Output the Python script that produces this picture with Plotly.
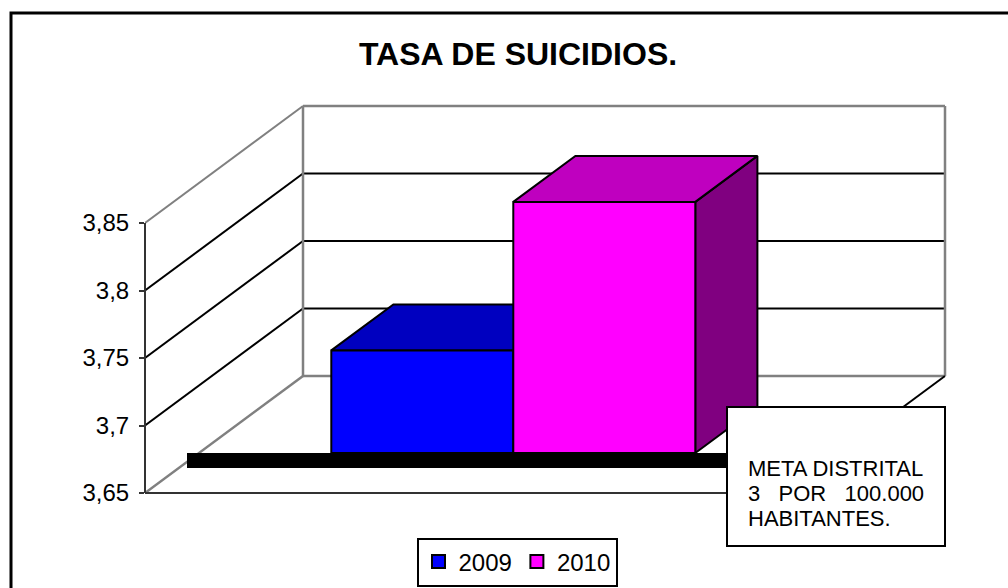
import plotly.graph_objects as go

# Data
series_names = ["2009", "2010"]
series_values = [3.726, 3.836]
front_colors = ["#0000FF", "#FF00FF"]
top_colors = ["#0000C0", "#BF00BF"]
side_colors = ["#000080", "#800080"]
y_ticks = [3.65, 3.7, 3.75, 3.8, 3.85]
y_tick_labels = ["3,65", "3,7", "3,75", "3,8", "3,85"]
title_text = "TASA DE SUICIDIOS."
note_lines = ["META DISTRITAL", "3\u00a0\u00a0\u00a0POR\u00a0\u00a0\u00a0100.000", "HABITANTES."]

# Oblique 3D frame (axis units)
Y_MIN = 3.65
PX_PER_Y = 1350.0
PX_PER_X = 642.0
DEPTH_X = 158 / PX_PER_X
DEPTH_Y = 117 / PX_PER_Y
FLOOR_W = 1.0
BAR_W = 0.2835
BAR_START = 0.206
BAR_D0 = 0.342
BAR_D1 = 0.735

W, H = 1008, 588
M_L, M_R, M_T, M_B = 145, 57, 101, 89
PLOT_W = W - M_L - M_R
PLOT_H = H - M_T - M_B


def px(x):
    return (x - M_L) / PLOT_W


def py(y):
    return (H - M_B - y) / PLOT_H


def proj(x, v, d):
    return x + d * DEPTH_X, v + d * DEPTH_Y


def poly(points, fill, line="black", width=2):
    xs, ys = zip(*points)
    return go.Scatter(x=list(xs) + [xs[0]], y=list(ys) + [ys[0]], mode="lines", fill="toself",
                      fillcolor=fill, line=dict(color=line, width=width),
                      hoverinfo="skip", showlegend=False)


def seg(p, q, color="black", width=2):
    return go.Scatter(x=[p[0], q[0]], y=[p[1], q[1]], mode="lines",
                      line=dict(color=color, width=width), hoverinfo="skip", showlegend=False)


GREY = "#808080"
fig = go.Figure()

# Walls and gridlines
for t in y_ticks[1:]:
    a = proj(0, t, 0)
    b = proj(0, t, 1)
    c = proj(FLOOR_W, t, 1)
    is_top = t == y_ticks[-1]
    fig.add_trace(seg(a, b, GREY if is_top else "black"))
    fig.add_trace(seg(b, c, GREY if is_top else "black", 2.5 if is_top else 2))
bl = proj(0, Y_MIN, 1)
tl = proj(0, y_ticks[-1], 1)
br = proj(FLOOR_W, Y_MIN, 1)
tr = proj(FLOOR_W, y_ticks[-1], 1)
fig.add_trace(seg(bl, tl, GREY, 2.5))
fig.add_trace(seg(br, tr, GREY, 2.5))
fig.add_trace(seg(bl, br, GREY, 2.5))
fig.add_trace(seg(proj(0, Y_MIN, 0), bl, GREY, 2.5))
fig.add_trace(seg(proj(FLOOR_W, Y_MIN, 0), br, "black"))
fig.add_trace(seg(proj(0, Y_MIN, 0), proj(FLOOR_W, Y_MIN, 0), "#333333"))

# Bars
for i, v in enumerate(series_values):
    x0 = BAR_START + i * BAR_W
    x1 = x0 + BAR_W
    fig.add_trace(poly([proj(x1, Y_MIN, BAR_D0), proj(x1, Y_MIN, BAR_D1), proj(x1, v, BAR_D1), proj(x1, v, BAR_D0)], side_colors[i]))
    fig.add_trace(poly([proj(x0, v, BAR_D0), proj(x1, v, BAR_D0), proj(x1, v, BAR_D1), proj(x0, v, BAR_D1)], top_colors[i]))
    fig.add_trace(poly([proj(x0, Y_MIN, BAR_D0), proj(x1, Y_MIN, BAR_D0), proj(x1, v, BAR_D0), proj(x0, v, BAR_D0)], front_colors[i]))

# Legend entries
for i, n in enumerate(series_names):
    fig.add_trace(go.Scatter(x=[None], y=[None], mode="markers", name=n,
                             marker=dict(symbol="square", size=13, color=front_colors[i],
                                         line=dict(color="black", width=2))))

note_y = [468.5, 493.5, 518.5]
annotations = [
    dict(xref="paper", yref="paper", x=px(746), y=py(yy), xanchor="left", yanchor="middle",
         showarrow=False, text=line, align="left", font=dict(size=22))
    for line, yy in zip(note_lines, note_y)
]

fig.update_layout(
    width=W, height=H, autosize=False,
    margin=dict(l=M_L, r=M_R, t=M_T, b=M_B),
    paper_bgcolor="white", plot_bgcolor="white",
    font=dict(family="Liberation Sans, Arial, sans-serif", color="black", size=24),
    title=dict(text="<b>" + title_text + "</b>", x=518 / W, xanchor="center", y=1 - 54 / H, yanchor="middle",
               font=dict(size=32, color="black")),
    xaxis=dict(range=[0, PLOT_W / PX_PER_X], visible=False, fixedrange=True),
    yaxis=dict(range=[Y_MIN - (H - M_B - 493) / PX_PER_Y, Y_MIN + (493 - M_T) / PX_PER_Y],
               showgrid=False, zeroline=False, showline=False,
               tickmode="array", tickvals=y_ticks, ticktext=y_tick_labels, ticks="outside",
               ticklen=5, tickwidth=2, tickcolor="#333333", tickfont=dict(size=24),
               ticklabelstandoff=5, fixedrange=True),
    showlegend=True,
    legend=dict(orientation="h", xref="container", yref="container",
                x=517 / W, xanchor="center", y=1 - 562 / H, yanchor="middle",
                bgcolor="white", bordercolor="black", borderwidth=2,
                font=dict(size=24), itemwidth=30),
    shapes=[
        dict(type="rect", xref="paper", yref="paper", x0=px(11), x1=px(1030),
             y0=py(610), y1=py(13), line=dict(color="black", width=3), fillcolor="rgba(0,0,0,0)", layer="below"),
        dict(type="line", xref="paper", yref="y", x0=0, x1=0, y0=Y_MIN, y1=y_ticks[-1],
             line=dict(color="#333333", width=2), layer="above"),
        dict(type="rect", xref="paper", yref="paper", x0=px(187), x1=px(730),
             y0=py(468), y1=py(453), fillcolor="black", line=dict(width=0), layer="above"),
        dict(type="rect", xref="paper", yref="paper", x0=px(727), x1=px(945),
             y0=py(546), y1=py(407), fillcolor="white", line=dict(color="black", width=2), layer="above"),
    ],
    annotations=annotations,
)
fig.write_html("out.html", config=dict(displayModeBar=False),
               post_script="document.body.style.margin='0';document.body.style.overflow='hidden';")
